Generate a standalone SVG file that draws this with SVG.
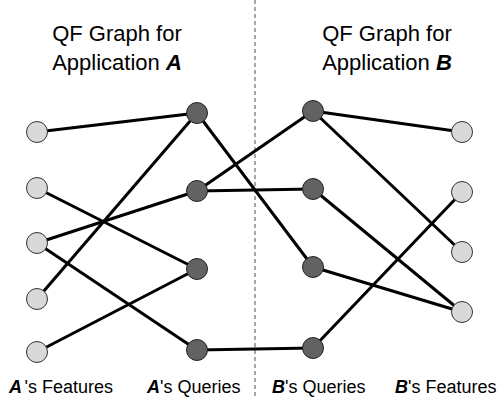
<svg xmlns="http://www.w3.org/2000/svg" width="501" height="399" viewBox="0 0 501 399">
  <style>
    .title { font-family: "Liberation Sans", Arial, sans-serif; font-size: 22px; fill: #000; text-anchor: middle; }
    .label { font-family: "Liberation Sans", Arial, sans-serif; font-size: 18px; fill: #000; }
    .em { font-weight: bold; font-style: italic; }
    .edge { stroke: #000; stroke-width: 3; fill: none; }
    .feature { fill: #d9d9d9; stroke: #333; stroke-width: 1; }
    .query { fill: #626262; stroke: #222; stroke-width: 1; }
    .divider { stroke: #888; stroke-width: 1.5; stroke-dasharray: 4 3; }
  </style>

  <rect width="501" height="399" fill="#fff"/>

  <line class="divider" x1="255" y1="0" x2="255" y2="399"/>

  <!-- Titles -->
  <text class="title" x="117" y="41">QF Graph for</text>
  <text class="title" x="117" y="70">Application <tspan class="em">A</tspan></text>
  <text class="title" x="387" y="41">QF Graph for</text>
  <text class="title" x="387" y="70">Application <tspan class="em">B</tspan></text>

  <!-- Connectors -->
  <g id="edges">
    <line class="edge" x1="37" y1="132" x2="197" y2="113"/>
    <line class="edge" x1="37" y1="188" x2="197" y2="269"/>
    <line class="edge" x1="37" y1="243" x2="197" y2="191"/>
    <line class="edge" x1="37" y1="243" x2="197" y2="350"/>
    <line class="edge" x1="37" y1="299" x2="197" y2="113"/>
    <line class="edge" x1="37" y1="352" x2="197" y2="269"/>
    <line class="edge" x1="197" y1="113" x2="313" y2="267"/>
    <line class="edge" x1="197" y1="191" x2="313" y2="111"/>
    <line class="edge" x1="197" y1="191" x2="313" y2="189"/>
    <line class="edge" x1="197" y1="350" x2="313" y2="348"/>
    <line class="edge" x1="313" y1="111" x2="462" y2="132"/>
    <line class="edge" x1="313" y1="111" x2="462" y2="252"/>
    <line class="edge" x1="313" y1="189" x2="462" y2="312"/>
    <line class="edge" x1="313" y1="267" x2="462" y2="312"/>
    <line class="edge" x1="313" y1="348" x2="462" y2="192"/>
  </g>

  <!-- A's features -->
  <g id="a-f1"><circle class="feature" cx="37" cy="132" r="10.5"/></g>
  <g id="a-f2"><circle class="feature" cx="37" cy="188" r="10.5"/></g>
  <g id="a-f3"><circle class="feature" cx="37" cy="243" r="10.5"/></g>
  <g id="a-f4"><circle class="feature" cx="37" cy="299" r="10.5"/></g>
  <g id="a-f5"><circle class="feature" cx="37" cy="352" r="10.5"/></g>

  <!-- A's queries -->
  <g id="a-q1"><circle class="query" cx="197" cy="113" r="10.5"/></g>
  <g id="a-q2"><circle class="query" cx="197" cy="191" r="10.5"/></g>
  <g id="a-q3"><circle class="query" cx="197" cy="269" r="10.5"/></g>
  <g id="a-q4"><circle class="query" cx="197" cy="350" r="10.5"/></g>

  <!-- B's queries -->
  <g id="b-q1"><circle class="query" cx="313" cy="111" r="10.5"/></g>
  <g id="b-q2"><circle class="query" cx="313" cy="189" r="10.5"/></g>
  <g id="b-q3"><circle class="query" cx="313" cy="267" r="10.5"/></g>
  <g id="b-q4"><circle class="query" cx="313" cy="348" r="10.5"/></g>

  <!-- B's features -->
  <g id="b-f1"><circle class="feature" cx="462" cy="132" r="10.5"/></g>
  <g id="b-f2"><circle class="feature" cx="462" cy="192" r="10.5"/></g>
  <g id="b-f3"><circle class="feature" cx="462" cy="252" r="10.5"/></g>
  <g id="b-f4"><circle class="feature" cx="462" cy="312" r="10.5"/></g>

  <!-- Column labels -->
  <text class="label" x="9" y="393"><tspan class="em">A</tspan><tspan dx="2.5">'s Features</tspan></text>
  <text class="label" x="147" y="393"><tspan class="em">A</tspan>'s Queries</text>
  <text class="label" x="272" y="393"><tspan class="em">B</tspan>'s Queries</text>
  <text class="label" x="395" y="393"><tspan class="em">B</tspan>'s Features</text>
</svg>
